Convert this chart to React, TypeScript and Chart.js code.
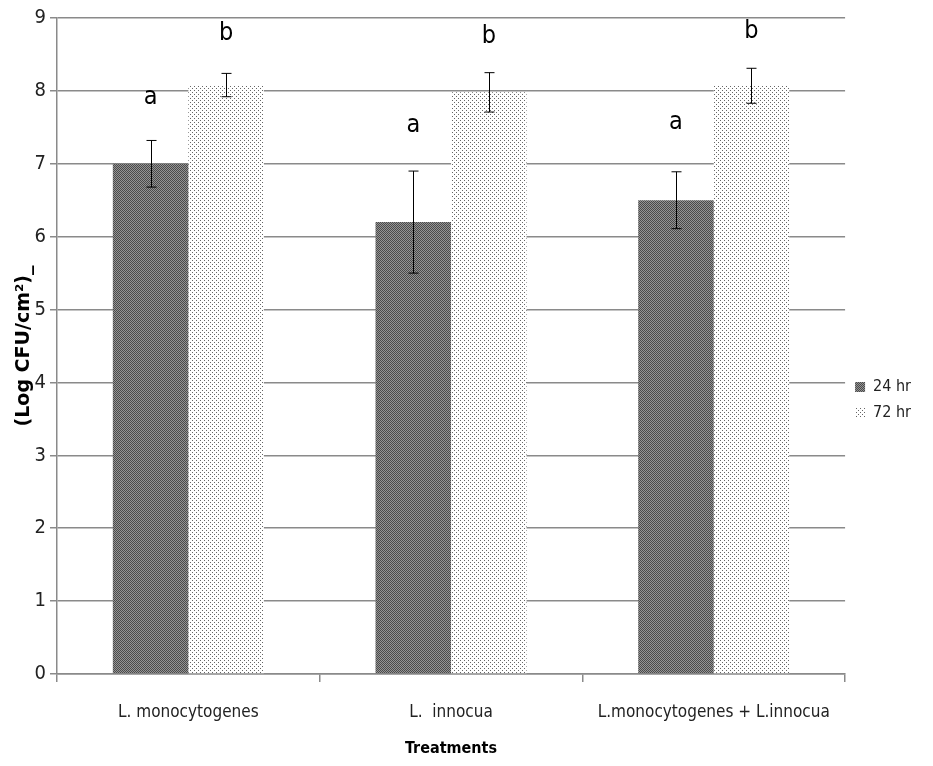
import React, { useEffect, useRef } from "react";
import { Chart, registerables } from "chart.js";

Chart.register(...registerables);

const categories = ["L. monocytogenes", "L.  innocua", "L.monocytogenes + L.innocua"];
const seriesNames = ["24 hr", "72 hr"];
const hr24 = [7.0, 6.2, 6.5];
const err24 = [0.32, 0.7, 0.39];
const hr72 = [8.08, 7.98, 8.07];
const err72 = [0.16, 0.27, 0.24];
const letters24 = ["a", "a", "a"];
const letters72 = ["b", "b", "b"];
const letterPos24 = [7.91, 7.52, 7.56];
const letterPos72 = [8.79, 8.74, 8.81];
const yTicks = [0, 1, 2, 3, 4, 5, 6, 7, 8, 9];

const FONT = "'Liberation Sans Narrow', 'DejaVu Sans Condensed', sans-serif";

function makePattern(kind: "dark" | "light"): CanvasPattern | string {
  const c = document.createElement("canvas");
  const ctx = c.getContext("2d");
  if (!ctx) return kind === "dark" ? "#666" : "#eee";
  if (kind === "dark") {
    c.width = 2;
    c.height = 2;
    ctx.fillStyle = "#949494";
    ctx.fillRect(0, 0, 2, 2);
    ctx.fillStyle = "#4a4a4a";
    ctx.fillRect(0, 0, 1, 1);
    ctx.fillRect(1, 1, 1, 1);
  } else {
    c.width = 4;
    c.height = 4;
    ctx.fillStyle = "#ffffff";
    ctx.fillRect(0, 0, 4, 4);
    ctx.fillStyle = "#666666";
    ctx.fillRect(0, 0, 1, 1);
    ctx.fillRect(2, 2, 1, 1);
  }
  return ctx.createPattern(c, "repeat") || "#888";
}

const errorBarPlugin = {
  id: "errorBars",
  afterDatasetsDraw(chart: any) {
    const ctx = chart.ctx;
    const yScale = chart.scales.y;
    const errs = [err24, err72];
    const vals = [hr24, hr72];
    ctx.save();
    ctx.strokeStyle = "#000";
    ctx.lineWidth = 1;
    for (let d = 0; d < 2; d++) {
      const meta = chart.getDatasetMeta(d);
      meta.data.forEach((el: any, i: number) => {
        const x = Math.round(el.x) + 0.5;
        const top = yScale.getPixelForValue(vals[d][i] + errs[d][i]);
        const bot = yScale.getPixelForValue(vals[d][i] - errs[d][i]);
        ctx.beginPath();
        ctx.moveTo(x, top);
        ctx.lineTo(x, bot);
        ctx.moveTo(x - 5, top);
        ctx.lineTo(x + 5, top);
        ctx.moveTo(x - 5, bot);
        ctx.lineTo(x + 5, bot);
        ctx.stroke();
      });
    }
    ctx.restore();
  },
};

const letterPlugin = {
  id: "letters",
  afterDatasetsDraw(chart: any) {
    const ctx = chart.ctx;
    const yScale = chart.scales.y;
    const lets = [letters24, letters72];
    const pos = [letterPos24, letterPos72];
    ctx.save();
    ctx.fillStyle = "#000";
    ctx.font = `25px ${FONT}`;
    ctx.textAlign = "center";
    ctx.textBaseline = "middle";
    for (let d = 0; d < 2; d++) {
      const meta = chart.getDatasetMeta(d);
      meta.data.forEach((el: any, i: number) => {
        ctx.fillText(lets[d][i], el.x, yScale.getPixelForValue(pos[d][i]));
      });
    }
    ctx.restore();
  },
};

export default function App() {
  const ref = useRef<HTMLCanvasElement | null>(null);
  useEffect(() => {
    if (!ref.current) return;
    const chart = new Chart(ref.current, {
      type: "bar",
      data: {
        labels: categories,
        datasets: [
          {
            label: seriesNames[0],
            data: hr24,
            backgroundColor: makePattern("dark") as any,
            borderWidth: 0,
            barPercentage: 1,
            categoryPercentage: 0.575,
          },
          {
            label: seriesNames[1],
            data: hr72,
            backgroundColor: makePattern("light") as any,
            borderWidth: 0,
            barPercentage: 1,
            categoryPercentage: 0.575,
          },
        ],
      },
      options: {
        animation: false,
        responsive: true,
        maintainAspectRatio: false,
        layout: { padding: { top: 10, right: 4, left: 0, bottom: 0 } },
        plugins: {
          tooltip: { enabled: false },
          legend: {
            position: "right",
            title: {
              display: true,
              text: " ",
              font: { size: 20, lineHeight: 1.2 },
              padding: 0,
            },
            labels: {
              boxWidth: 10,
              boxHeight: 10,
              padding: 10,
              color: "#222",
              font: { family: FONT, size: 16, lineHeight: 1 },
            },
          },
        },
        scales: {
          x: {
            grid: {
              offset: true,
              drawOnChartArea: false,
              drawTicks: true,
              tickLength: 8,
              color: "#8a8a8a",
              lineWidth: 1.5,
            },
            border: { color: "#8a8a8a", width: 1.5 },
            ticks: {
              color: "#222",
              font: { family: FONT, size: 17 },
              padding: 20,
              maxRotation: 0,
              autoSkip: false,
            },
            title: {
              display: true,
              text: "Treatments",
              color: "#000",
              font: { family: FONT, size: 16, weight: "bold" },
              padding: { top: 4, bottom: 0 },
            },
            afterFit(scale: any) {
              scale.height = 84;
            },
          },
          y: {
            min: 0,
            max: 9,
            afterBuildTicks(scale: any) {
              scale.ticks = yTicks.map((v) => ({ value: v }));
            },
            grid: {
              color: "#8a8a8a",
              lineWidth: 1.5,
              tickLength: 7,
            },
            border: { color: "#8a8a8a", width: 1.5 },
            ticks: {
              color: "#222",
              font: { family: FONT, size: 20, lineHeight: 0.6 },
              padding: 4,
            },
            title: {
              display: true,
              text: "(Log CFU/cm²)_",
              color: "#000",
              font: { family: "'DejaVu Sans', sans-serif", size: 19, weight: "bold" },
              padding: { top: 5, bottom: 0 },
            },
            afterFit(scale: any) {
              scale.width = 49;
            },
          },
        },
      },
      plugins: [errorBarPlugin, letterPlugin],
    });
    return () => chart.destroy();
  }, []);
  return (
    <div style={{ width: 917, height: 750, position: "relative" }}>
      <canvas ref={ref} />
    </div>
  );
}
